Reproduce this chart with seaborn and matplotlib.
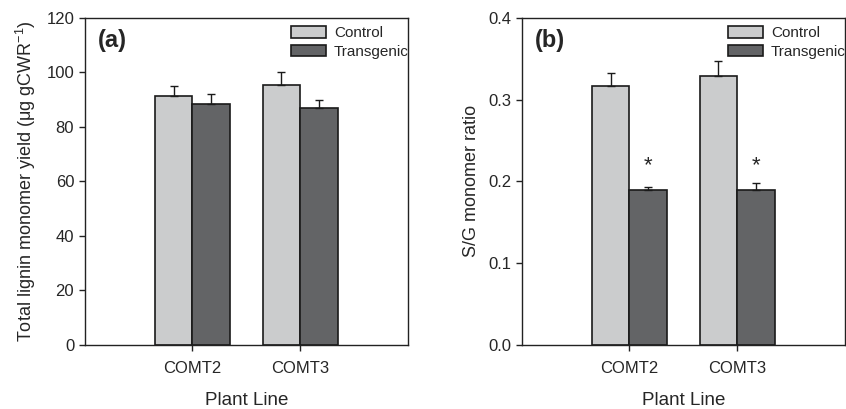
import matplotlib
matplotlib.use("Agg")
import matplotlib.pyplot as plt
import seaborn as sns
import pandas as pd

lines = ['COMT2', 'COMT3']
groups = ['Control', 'Transgenic']

# panel (a): total lignin monomer yield
yield_control = [91.5, 95.4]
yield_transgenic = [88.6, 86.9]
yield_err_control = [3.7, 4.9]
yield_err_transgenic = [3.5, 3.1]

# panel (b): S/G ratio
sg_control = [0.317, 0.329]
sg_transgenic = [0.190, 0.189]
sg_err_control = [0.016, 0.018]
sg_err_transgenic = [0.003, 0.009]
sg_signif = [True, True]

colors = {'Control': '#cbcccd', 'Transgenic': '#636466'}

sns.set_style('ticks')
plt.rcParams['font.family'] = ['Liberation Sans', 'DejaVu Sans']
plt.rcParams['mathtext.fontset'] = 'custom'
plt.rcParams['mathtext.rm'] = 'Liberation Sans'
plt.rcParams['mathtext.it'] = 'Liberation Sans:italic'
plt.rcParams['axes.linewidth'] = 1.0
plt.rcParams['axes.edgecolor'] = '#222222'


def long_df(ctrl, trans):
    rows = []
    for i, ln in enumerate(lines):
        rows.append({'line': ln, 'group': 'Control', 'value': ctrl[i]})
        rows.append({'line': ln, 'group': 'Transgenic', 'value': trans[i]})
    return pd.DataFrame(rows)


def draw_panel(ax, ctrl, trans, err_c, err_t, ymax, yticks, ylabel, tag, fmt):
    df = long_df(ctrl, trans)
    sns.barplot(data=df, x='line', y='value', hue='group', hue_order=groups,
                palette=colors, edgecolor='#1a1a1a', linewidth=1.2,
                width=0.7, errorbar=None, ax=ax, saturation=1)
    errs = [err_c, err_t]
    for cont, err in zip(ax.containers, errs):
        for bar, e in zip(cont, err):
            xc = bar.get_x() + bar.get_width() / 2
            h = bar.get_height()
            ax.errorbar(xc, h, yerr=[[0], [e]], fmt='none', ecolor='#1a1a1a',
                        elinewidth=1.0, capsize=3, capthick=1.0, zorder=1)
    ax.set_xlim(-1, 2)
    ax.set_ylim(0, ymax)
    ax.set_yticks(yticks)
    ax.set_yticklabels([fmt.format(v) for v in yticks])
    ax.tick_params(axis='both', labelsize=12, direction='out', length=4,
                   width=1.0, color='#222222')
    ax.tick_params(axis='x', pad=8)
    ax.set_xlabel('Plant Line', fontsize=13.5, labelpad=11)
    ax.set_ylabel(ylabel, fontsize=13, labelpad=6)
    for s in ax.spines.values():
        s.set_visible(True)
    ax.text(0.04, 0.965, tag, transform=ax.transAxes, fontsize=17,
            fontweight='bold', va='top', ha='left')
    handles, labels = ax.get_legend_handles_labels()
    ax.legend(handles, labels, loc='upper right', bbox_to_anchor=(1.035, 1.008),
              frameon=False, fontsize=11, handlelength=2.3, handleheight=0.78,
              labelspacing=0.3, handletextpad=0.5, borderaxespad=0.3)
    return ax


fig, axes = plt.subplots(1, 2, figsize=(8.46, 4.09), dpi=100)

draw_panel(axes[0], yield_control, yield_transgenic, yield_err_control,
           yield_err_transgenic, 120, [0, 20, 40, 60, 80, 100, 120],
           'Total lignin monomer yield (μg gCWR$^{-1}$)', '(a)', '{:.0f}')

ax = draw_panel(axes[1], sg_control, sg_transgenic, sg_err_control,
                sg_err_transgenic, 0.4, [0.0, 0.1, 0.2, 0.3, 0.4],
                'S/G monomer ratio', '(b)', '{:.1f}')

# significance markers above transgenic bars
for bar, e, sig in zip(ax.containers[1], sg_err_transgenic, sg_signif):
    if sig:
        xc = bar.get_x() + bar.get_width() / 2
        ax.text(xc, 0.206, '*', ha='center', va='bottom', fontsize=16)

fig.subplots_adjust(left=0.1, right=0.999, top=0.956, bottom=0.157, wspace=0.35)
fig.savefig('out.png', dpi=100)
